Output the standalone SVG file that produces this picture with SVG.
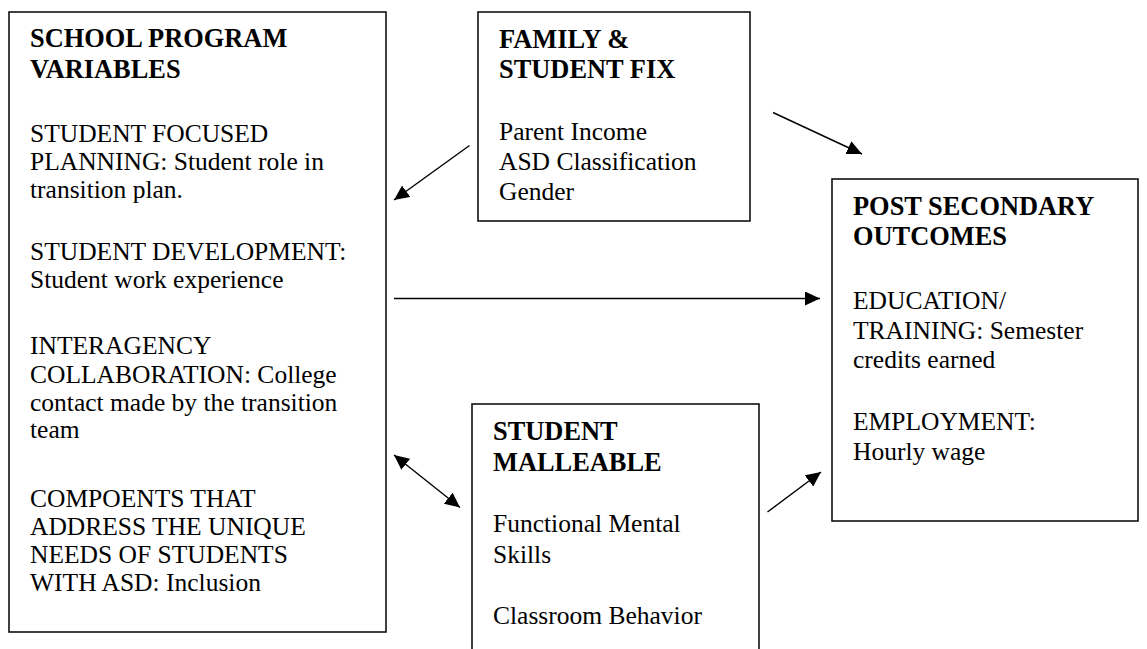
<svg xmlns="http://www.w3.org/2000/svg" width="1147" height="649" viewBox="0 0 1147 649">
  <style>
    .box { fill: #fff; stroke: #111; stroke-width: 1.6; }
    .h { font-family: "Liberation Serif", "Times New Roman", serif; font-weight: bold; font-size: 26.4px; fill: #000; }
    .t { font-family: "Liberation Serif", "Times New Roman", serif; font-size: 25.5px; fill: #000; }
    .conn { stroke: #000; stroke-width: 1.4; fill: none; }
  </style>
  <defs>
    <marker id="arrow" markerUnits="userSpaceOnUse" markerWidth="15" markerHeight="14" refX="15" refY="7" orient="auto-start-reverse">
      <path d="M0,0 L15,7 L0,14 z" fill="#000"/>
    </marker>
  </defs>

  <rect width="1147" height="649" fill="#fff"/>

  <!-- School program variables -->
  <g id="school-program">
    <rect class="box" x="9" y="12" width="377" height="620"/>
    <text class="h" x="30" y="46.5">SCHOOL PROGRAM</text>
    <text class="h" x="30" y="77.5">VARIABLES</text>
    <text class="t" x="30" y="141.5">STUDENT FOCUSED</text>
    <text class="t" x="30" y="170">PLANNING: Student role in</text>
    <text class="t" x="30" y="198">transition plan.</text>
    <text class="t" x="30" y="260">STUDENT DEVELOPMENT:</text>
    <text class="t" x="30" y="288">Student work experience</text>
    <text class="t" x="30" y="354">INTERAGENCY</text>
    <text class="t" x="30" y="383">COLLABORATION: College</text>
    <text class="t" x="30" y="410.5">contact made by the transition</text>
    <text class="t" x="30" y="438">team</text>
    <text class="t" x="30" y="507">COMPOENTS THAT</text>
    <text class="t" x="30" y="535">ADDRESS THE UNIQUE</text>
    <text class="t" x="30" y="563">NEEDS OF STUDENTS</text>
    <text class="t" x="30" y="591">WITH ASD: Inclusion</text>
  </g>

  <!-- Family and student fixed factors -->
  <g id="family-student-fix">
    <rect class="box" x="478" y="12" width="272" height="209"/>
    <text class="h" x="499" y="48">FAMILY &amp;</text>
    <text class="h" x="499" y="78">STUDENT FIX</text>
    <text class="t" x="499" y="140">Parent Income</text>
    <text class="t" x="499" y="170">ASD Classification</text>
    <text class="t" x="499" y="200">Gender</text>
  </g>

  <!-- Post secondary outcomes -->
  <g id="post-secondary">
    <rect class="box" x="832" y="179" width="306" height="342"/>
    <text class="h" x="853" y="215">POST SECONDARY</text>
    <text class="h" x="853" y="245">OUTCOMES</text>
    <text class="t" x="853" y="309">EDUCATION/</text>
    <text class="t" x="853" y="338.5">TRAINING: Semester</text>
    <text class="t" x="853" y="367.5">credits earned</text>
    <text class="t" x="853" y="430">EMPLOYMENT:</text>
    <text class="t" x="853" y="460">Hourly wage</text>
  </g>

  <!-- Student malleable factors (box runs past the lower edge) -->
  <g id="student-malleable">
    <rect class="box" x="472" y="404" width="287" height="270"/>
    <text class="h" x="493" y="440">STUDENT</text>
    <text class="h" x="493" y="471">MALLEABLE</text>
    <text class="t" x="493" y="532">Functional Mental</text>
    <text class="t" x="493" y="563">Skills</text>
    <text class="t" x="493" y="624">Classroom Behavior</text>
  </g>

  <!-- Connectors -->
  <g id="connectors">
    <line class="conn" x1="469.5" y1="145.5" x2="394" y2="200" marker-end="url(#arrow)"/>
    <line class="conn" x1="773" y1="112.5" x2="862" y2="154" marker-end="url(#arrow)"/>
    <line class="conn" x1="394" y1="298.5" x2="820" y2="298.5" marker-end="url(#arrow)"/>
    <line class="conn" x1="394" y1="455" x2="460" y2="507.5" marker-start="url(#arrow)" marker-end="url(#arrow)"/>
    <line class="conn" x1="767.5" y1="512" x2="821" y2="472" marker-end="url(#arrow)"/>
  </g>
</svg>
